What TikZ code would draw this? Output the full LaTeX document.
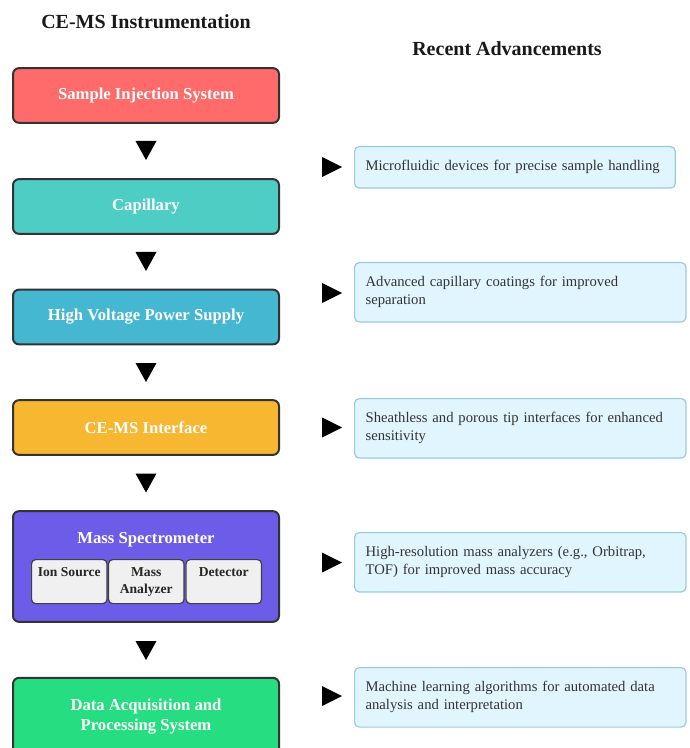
\documentclass[tikz,border=0pt]{standalone}
\usepackage{fontspec}
\setmainfont{Liberation Serif}
\begin{document}
\begin{tikzpicture}[x=0.75pt,y=-0.75pt,
  mainbox/.style={draw=black!80, line width=1.5pt, rounded corners=4.5pt, minimum width=199.5pt, minimum height=41pt, text=white, font=\fontsize{12.5pt}{14.5pt}\selectfont\bfseries, align=center},
  subbox/.style={draw=black!75, line width=0.9pt, rounded corners=3pt, fill=gray!12, minimum width=56.5pt, minimum height=33pt},
  subtext/.style={font=\fontsize{10.2pt}{12.5pt}\selectfont\bfseries, text=black!85, anchor=north, align=center, inner ysep=6.5pt},
  advbox/.style={draw=cyan!45!teal!45, line width=0.9pt, rounded corners=3.5pt, fill=cyan!12, anchor=north west, text=black!80, font=\fontsize{11pt}{13.5pt}\selectfont, align=left, inner xsep=8.25pt, inner ysep=10.5pt},
  heading/.style={font=\fontsize{15pt}{17pt}\selectfont\bfseries, text=black!90}]
\clip (0,0) rectangle (689,748);
\fill[white] (0,0) rectangle (689,748);

\node[heading] (t1) at (146,22) {CE-MS Instrumentation};
\node[heading] (t2) at (507,49) {Recent Advancements};

\definecolor{cred}{HTML}{FF6B6B}
\definecolor{cteal}{HTML}{4ECDC4}
\definecolor{cblue}{HTML}{45B7D1}
\definecolor{corange}{HTML}{F7B731}
\definecolor{cpurple}{HTML}{6C5CE7}
\definecolor{cgreen}{HTML}{26DE81}

\node[mainbox, fill=cred] (b1) at (146,95.5) {Sample Injection System};
\node[mainbox, fill=cteal] (b2) at (146,206.5) {Capillary};
\node[mainbox, fill=cblue] (b3) at (146,317) {High Voltage Power Supply};
\node[mainbox, fill=corange] (b4) at (146,427.5) {CE-MS Interface};
\node[mainbox, fill=cpurple, minimum height=83pt] (b5) at (146,566.5) {};
\node[font=\fontsize{12.5pt}{14.5pt}\selectfont\bfseries, text=white] (b5t) at (146,539.5) {Mass Spectrometer};
\node[subbox, anchor=north west] (s1) at (31,559) {};
\node[subbox, anchor=north west] (s2) at (108,559) {};
\node[subbox, anchor=north west] (s3) at (185.5,559) {};
\node[subtext] (s1t) at (s1.north) {Ion Source};
\node[subtext] (s2t) at (s2.north) {Mass\\Analyzer};
\node[subtext] (s3t) at (s3.north) {Detector};
\node[mainbox, fill=cgreen, minimum height=58pt] (b6) at (146,716.5) {Data Acquisition and\\Processing System};

% down triangles
\foreach \n/\y in {d1/150, d2/261, d3/372, d4/482.5, d5/650}{
  \coordinate (\n) at (146,\y);
  \fill[black] (\n) ++(-10.5,-9) -- ++(21,0) -- ++(-10.5,19) -- cycle;
}

% right boxes
\node[advbox, text width=224pt] (r1) at (354,146) {\mbox{Microfluidic devices for precise sample handling}};
\node[advbox, text width=232pt] (r2) at (354,262) {Advanced capillary coatings for improved\\separation};
\node[advbox, text width=232pt] (r3) at (354,398) {Sheathless and porous tip interfaces for enhanced\\sensitivity};
\node[advbox, text width=232pt] (r4) at (354,532) {High-resolution mass analyzers (e.g., Orbitrap,\\TOF) for improved mass accuracy};
\node[advbox, text width=232pt] (r5) at (354,667) {Machine learning algorithms for automated data\\analysis and interpretation};

% right triangles
\foreach \n/\y in {p1/167, p2/293, p3/427.5, p4/562.5, p5/696}{
  \coordinate (\n) at (332,\y);
  \fill[black] (\n) ++(-10,-10) -- ++(0,20) -- ++(20,-10) -- cycle;
}
\end{tikzpicture}
\end{document}
